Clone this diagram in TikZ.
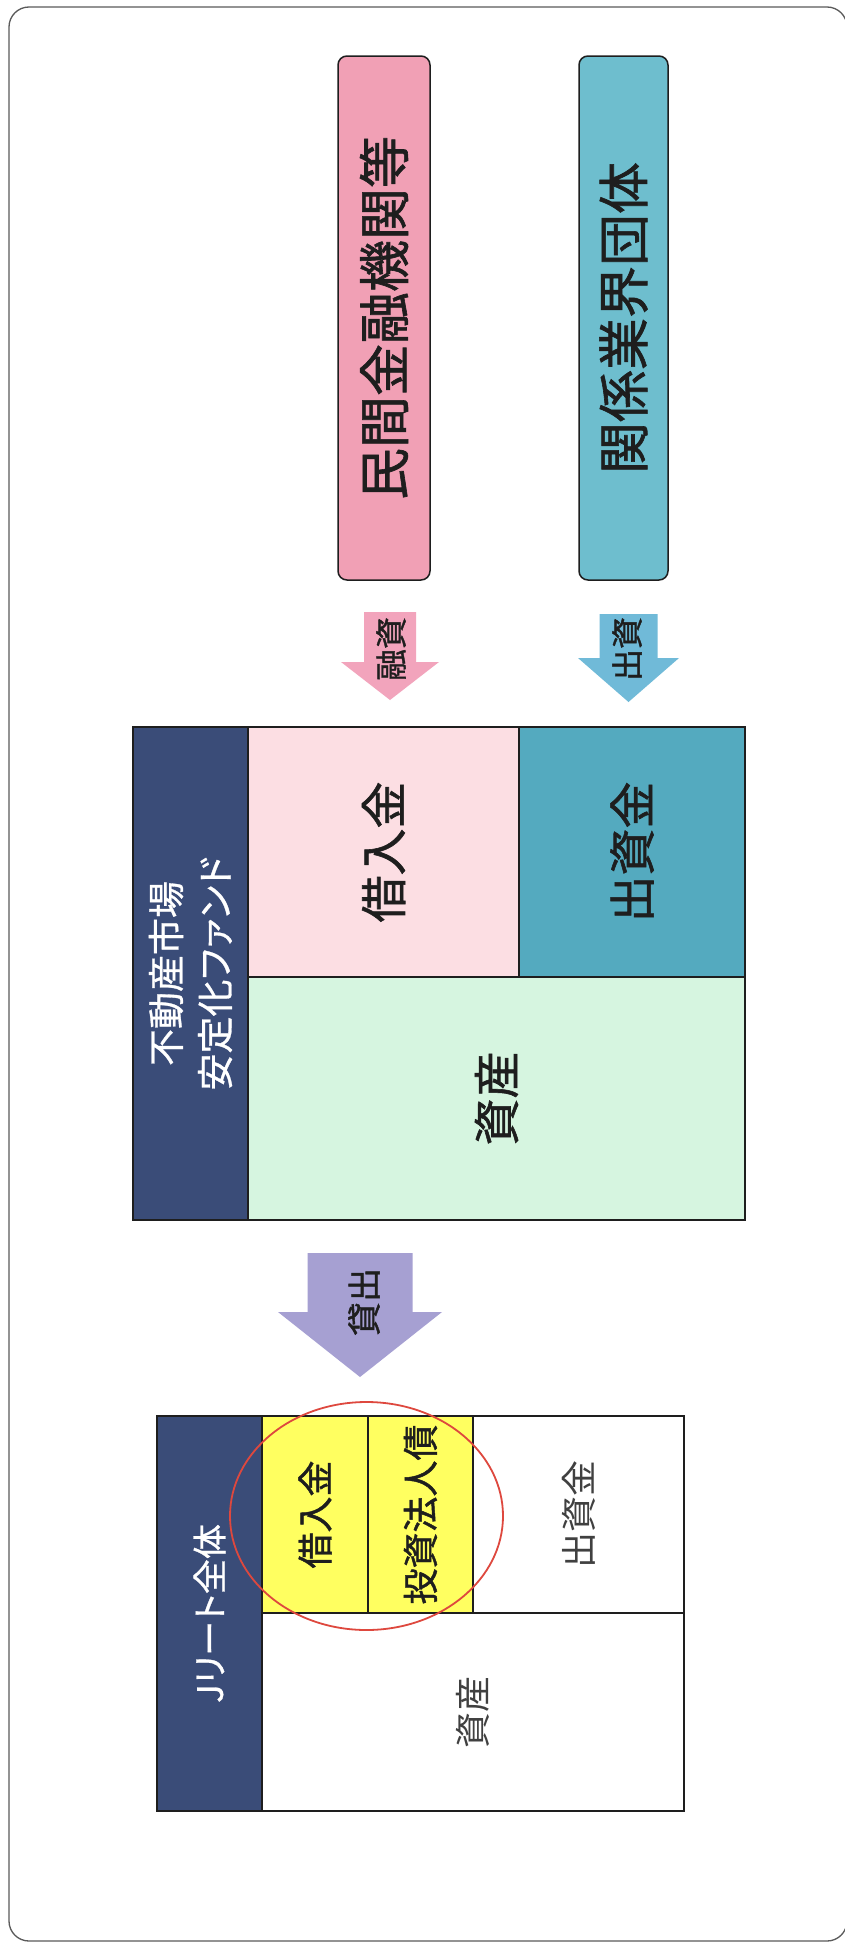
\documentclass[tikz,border=0pt]{standalone}
\usepackage{fontspec}
\setmainfont{Noto Sans CJK JP}
\newfontfamily\medfont[FakeBold=1.2]{Noto Sans CJK JP}
\newfontfamily\paltfont[FakeBold=0.8,RawFeature=+palt]{Noto Sans CJK JP}
\usetikzlibrary{shapes.geometric}
\definecolor{framegray}{RGB}{90,90,90}
\definecolor{pinkbox}{RGB}{241,160,181}
\definecolor{bluebox}{RGB}{110,190,206}
\definecolor{pinkarrow}{RGB}{242,164,188}
\definecolor{bluearrow}{RGB}{112,186,216}
\definecolor{purplearrow}{RGB}{166,160,210}
\definecolor{navy}{RGB}{58,76,120}
\definecolor{lpink}{RGB}{252,222,227}
\definecolor{teal}{RGB}{84,170,191}
\definecolor{mint}{RGB}{214,245,224}
\definecolor{yel}{RGB}{255,255,96}
\definecolor{redline}{RGB}{222,72,62}
\definecolor{ink}{RGB}{30,30,30}
\newcommand\myfs[2]{\fontsize{#1}{#2}\selectfont}
\begin{document}
\begin{tikzpicture}[x=1pt,y=-1pt,
  cell/.style={rotate=90, inner sep=0pt, draw=ink, line width=1.3pt, text=ink, align=center},
  topbox/.style={cell, rounded corners=9pt, line width=1.5pt},
  arrowlabel/.style={rotate=90, inner sep=0pt, text=ink}
]
\useasboundingbox (0,0) rectangle (845,1946);
\fill[white] (0,0) rectangle (845,1946);
\draw[framegray, line width=1.3pt, rounded corners=20pt] (9,7) rectangle (847,1941);

% top boxes
\node[topbox, fill=pinkbox, minimum width=524pt, minimum height=92pt, font=\medfont\myfs{52}{60}] (minkan) at (384,318) {民間金融機関等};
\node[topbox, fill=bluebox, minimum width=524pt, minimum height=89pt, font=\medfont\myfs{52}{60}] (kankei) at (623.5,318) {関係業界団体};

% arrows from top boxes
\fill[pinkarrow] (364,612) -- (416,612) -- (416,662) -- (439,662) -- (390,700) -- (341,662) -- (364,662) -- cycle;
\node[arrowlabel, font=\medfont\myfs{32}{34}] (yushi) at (391,649) {融資};
\fill[bluearrow] (599.5,614) -- (657.5,614) -- (657.5,658) -- (679,658) -- (628.5,702) -- (578,658) -- (599.5,658) -- cycle;
\node[arrowlabel, font=\medfont\myfs{32}{34}] (shusshi) at (627,649) {出資};

% fund
\node[cell, fill=navy, text=white, minimum width=493pt, minimum height=115pt, font=\paltfont\myfs{37}{49}] (fundlabel) at (190.5,973.5) {不動産市場\\安定化ファンド};
\node[cell, fill=lpink, minimum width=250pt, minimum height=271pt, font=\medfont\myfs{47}{50}] (fundkari) at (383.5,852) {借入金};
\node[cell, fill=teal, minimum width=250pt, minimum height=226pt, font=\medfont\myfs{47}{50}] (fundshu) at (632,852) {出資金};
\node[cell, fill=mint, minimum width=243pt, minimum height=497pt, font=\medfont\myfs{47}{50}] (fundshisan) at (496.5,1098.5) {資産};

% lending arrow
\fill[purplearrow] (307.5,1253) -- (412.5,1253) -- (412.5,1312) -- (442,1312) -- (360,1377) -- (278,1312) -- (307.5,1312) -- cycle;
\node[arrowlabel, font=\medfont\myfs{34}{36}] (kashidashi) at (364,1302) {貸出};

% REIT
\node[cell, fill=navy, text=white, minimum width=395pt, minimum height=105pt, font=\paltfont\myfs{35}{40}] (reitlabel) at (209.5,1613.5) {Jリート全体};
\node[cell, fill=yel, minimum width=197pt, minimum height=106pt, font=\medfont\myfs{36}{40}] (reitkari) at (315,1514.5) {借入金};
\node[cell, fill=yel, minimum width=197pt, minimum height=105pt, font=\medfont\myfs{36}{40}] (reitsai) at (420.5,1514.5) {投資法人債};
\node[cell, fill=white, minimum width=197pt, minimum height=211pt, font=\myfs{36}{40}, text=ink!85] (reitshu) at (578.5,1514.5) {出資金};
\node[cell, fill=white, minimum width=198pt, minimum height=422pt, font=\myfs{36}{40}, text=ink!85] (reitshisan) at (473,1712) {資産};

\node[ellipse, draw=redline, line width=1.8pt, minimum width=273pt, minimum height=228pt, inner sep=0pt] (focus) at (366.5,1516) {};
\end{tikzpicture}
\end{document}
